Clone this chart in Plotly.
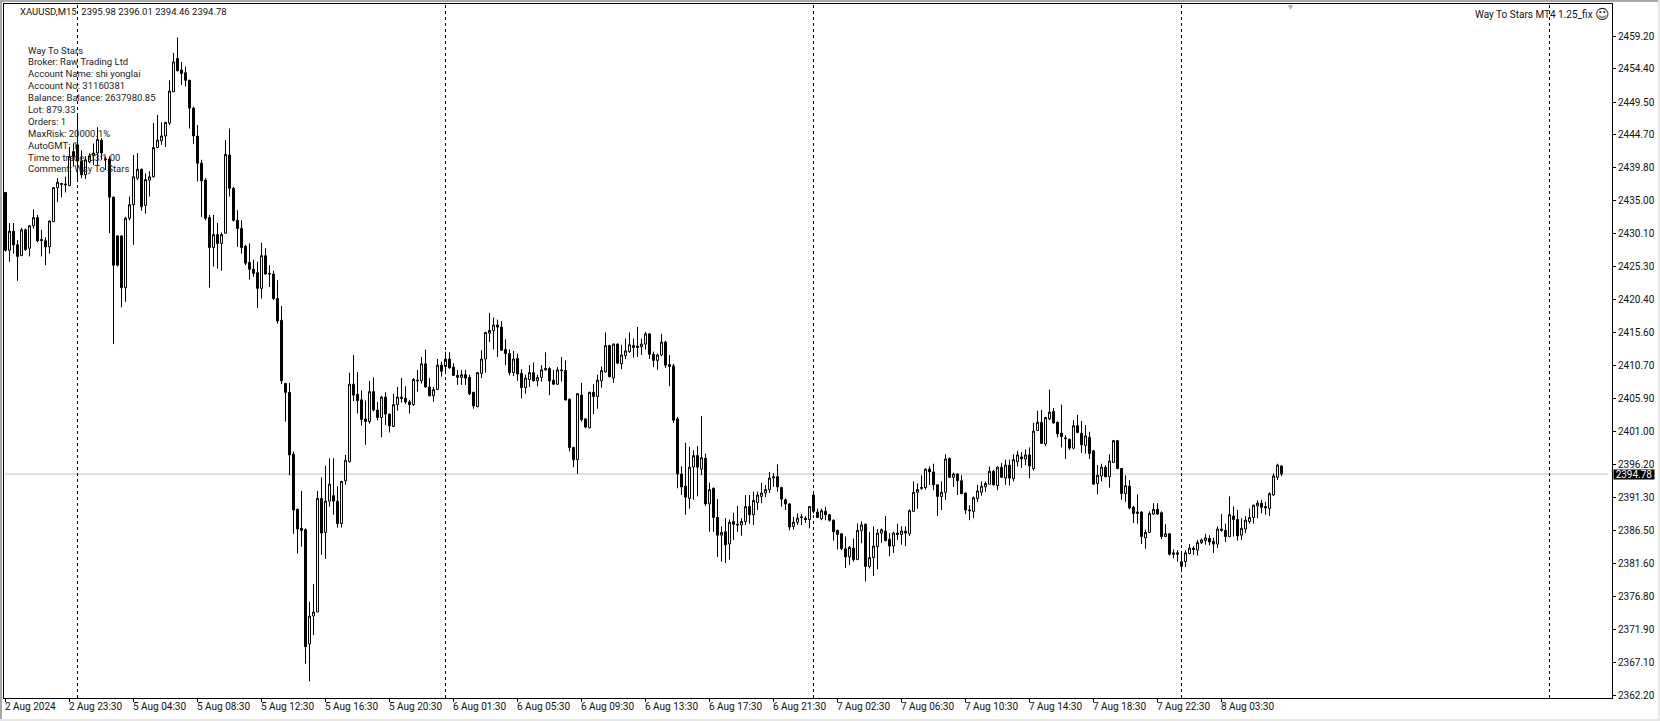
import plotly.graph_objects as go

opens = [
2436.2,2427.7,2430.5,2428.5,2426.9,2430.7,2428.0,2431.3,2432.5,2429.3,
2429.1,2428.2,2431.9,2436.9,2437.5,2437.3,2437.2,2442.2,2443.2,2440.8,
2438.8,2440.7,2441.6,2442.0,2443.9,2441.0,2441.1,2435.5,2429.8,2429.8,
2422.2,2432.4,2434.4,2438.3,2439.6,2434.3,2438.0,2438.5,2442.8,2443.8,
2444.5,2446.4,2451.0,2455.9,2454.2,2453.8,2452.7,2448.6,2444.5,2440.5,
2438.0,2432.5,2428.1,2430.0,2428.7,2430.2,2441.7,2436.8,2432.1,2430.9,
2428.3,2425.9,2424.9,2424.4,2422.1,2426.9,2424.3,2424.2,2420.6,2417.4,
2408.1,2406.8,2397.7,2389.6,2386.8,2386.6,2369.8,2373.9,2374.5,2391.2,
2386.2,2390.8,2391.6,2390.8,2387.5,2393.8,2396.6,2408.0,2406.5,2405.7,
2402.9,2402.5,2406.9,2404.2,2403.1,2406.1,2403.6,2401.8,2405.0,2406.1,
2405.9,2405.4,2405.0,2408.6,2408.5,2411.0,2407.6,2406.3,2407.2,2410.8,
2410.6,2411.7,2410.5,2409.3,2409.0,2409.4,2409.0,2406.8,2404.7,2409.6,
2411.7,2415.5,2415.9,2416.7,2416.4,2413.1,2412.5,2409.7,2411.8,2409.6,
2407.5,2408.7,2409.7,2408.5,2409.0,2410.1,2410.3,2408.6,2408.0,2410.1,
2410.0,2405.8,2398.7,2396.9,2406.4,2402.9,2401.6,2406.8,2406.2,2408.5,
2409.8,2413.7,2408.9,2413.9,2411.0,2412.2,2412.8,2413.7,2413.6,2413.5,
2413.9,2415.4,2412.4,2411.5,2412.3,2414.2,2410.9,2410.7,2402.9,2394.8,
2393.0,2391.2,2395.8,2397.5,2395.5,2397.1,2390.4,2392.7,2388.4,2385.8,
2386.3,2384.5,2387.8,2387.4,2387.3,2387.8,2390.0,2388.8,2390.6,2391.5,
2392.0,2392.5,2394.2,2394.4,2392.8,2391.0,2390.4,2387.1,2387.7,2388.5,
2388.3,2388.1,2391.7,2389.2,2388.2,2389.3,2388.8,2388.0,2386.5,2386.0,
2383.8,2382.6,2383.9,2382.2,2386.5,2387.4,2381.2,2382.5,2384.1,2386.1,
2386.4,2385.2,2384.2,2386.1,2385.9,2386.4,2386.0,2389.3,2392.1,2392.8,
2392.8,2395.5,2395.1,2393.2,2391.5,2392.1,2397.1,2394.3,2394.8,2393.8,
2392.0,2389.5,2389.3,2391.2,2392.1,2392.9,2393.3,2395.2,2393.1,2395.8,
2394.2,2396.1,2394.1,2396.6,2397.3,2397.0,2397.6,2395.6,2401.2,2402.4,
2399.2,2402.9,2404.0,2402.4,2400.8,2400.1,2399.9,2398.6,2401.9,2400.8,
2399.0,2400.2,2398.2,2393.4,2394.5,2395.8,2394.4,2396.5,2399.7,2395.6,
2391.9,2393.0,2389.9,2389.2,2389.2,2385.4,2386.2,2388.9,2389.6,2389.1,
2385.6,2386.0,2383.2,2383.2,2381.2,2381.9,2383.1,2383.9,2383.6,2384.7,
2385.0,2385.3,2384.9,2384.5,2386.7,2386.5,2385.6,2388.6,2388.1,2385.8,
2386.7,2387.8,2388.4,2390.1,2390.5,2390.0,2389.7,2391.7,2394.3,2395.98,
]
highs = [
2436.2,2431.7,2431.7,2429.2,2431.0,2430.9,2431.4,2433.7,2432.9,2430.7,
2429.6,2432.1,2437.0,2438.3,2437.6,2438.5,2442.9,2443.4,2447.8,2442.4,
2441.5,2442.0,2443.4,2445.8,2444.2,2441.5,2441.5,2435.6,2429.9,2429.9,
2432.6,2435.6,2441.7,2442.0,2439.7,2439.0,2439.3,2446.4,2447.6,2446.5,
2446.6,2452.7,2456.7,2458.96,2455.4,2454.7,2452.7,2448.8,2446.1,2441.0,
2438.3,2432.9,2432.9,2431.7,2430.3,2443.9,2445.6,2437.0,2433.6,2432.1,
2428.5,2428.7,2426.3,2426.0,2428.8,2428.0,2425.5,2424.7,2423.3,2419.5,
2408.2,2408.2,2398.1,2389.7,2392.3,2386.8,2376.0,2378.6,2392.3,2394.3,
2396.0,2397.1,2397.1,2393.0,2393.8,2397.6,2409.7,2412.3,2409.8,2407.1,
2405.6,2408.5,2409.0,2405.4,2406.3,2406.8,2403.7,2406.6,2407.6,2408.9,
2407.7,2405.7,2408.9,2410.1,2412.0,2413.1,2408.9,2407.6,2411.7,2411.3,
2412.8,2412.7,2411.1,2410.1,2410.1,2410.1,2409.4,2406.9,2409.8,2413.0,
2415.7,2418.5,2417.8,2417.5,2417.3,2414.6,2413.1,2412.9,2412.5,2410.2,
2409.4,2410.8,2411.2,2409.4,2410.8,2412.7,2410.5,2410.1,2410.5,2412.0,
2411.5,2405.9,2398.8,2406.7,2408.2,2403.0,2406.9,2408.0,2409.4,2410.6,
2415.6,2413.8,2414.0,2414.0,2413.8,2414.7,2415.6,2414.7,2416.4,2414.7,
2415.7,2415.5,2412.8,2412.5,2415.4,2414.4,2412.3,2411.0,2403.2,2395.9,
2399.4,2398.8,2398.3,2398.9,2403.3,2397.8,2393.5,2392.8,2391.1,2387.1,
2388.3,2388.1,2389.1,2390.1,2388.3,2391.7,2391.7,2392.2,2392.2,2393.5,
2393.2,2395.1,2394.9,2396.2,2392.9,2391.2,2390.5,2388.5,2389.0,2388.9,
2388.6,2390.1,2392.2,2389.7,2389.7,2390.0,2388.9,2388.1,2386.6,2386.1,
2385.6,2384.2,2385.3,2387.5,2387.8,2387.5,2386.3,2387.1,2386.7,2386.8,
2388.6,2386.1,2386.3,2387.5,2387.1,2387.1,2389.6,2393.7,2393.4,2394.6,
2395.6,2395.9,2396.3,2393.2,2393.7,2397.7,2397.2,2395.0,2394.9,2394.6,
2392.1,2390.2,2391.5,2393.2,2393.7,2393.7,2395.9,2395.4,2395.9,2396.4,
2396.9,2396.9,2397.7,2398.2,2398.0,2398.4,2398.7,2402.3,2404.1,2404.2,
2403.2,2407.2,2404.5,2402.5,2405.0,2400.5,2400.0,2402.7,2403.5,2402.6,
2402.0,2401.0,2398.3,2396.1,2396.3,2396.1,2397.7,2399.8,2399.8,2395.7,
2394.6,2393.9,2390.1,2391.8,2389.3,2386.6,2389.3,2390.5,2390.5,2389.3,
2387.4,2386.1,2383.7,2383.6,2383.4,2383.6,2384.5,2384.2,2385.1,2385.3,
2386.0,2385.8,2385.4,2387.1,2388.9,2387.5,2391.5,2390.0,2389.5,2388.3,
2388.6,2389.7,2390.3,2390.9,2391.0,2390.7,2392.1,2394.9,2396.3,2396.01,
]
lows = [
2427.5,2426.0,2427.2,2423.2,2426.9,2427.6,2426.8,2430.9,2428.9,2426.8,
2425.5,2427.2,2431.9,2434.8,2435.5,2436.2,2437.1,2440.0,2437.8,2438.3,
2438.2,2440.5,2440.2,2440.2,2441.0,2439.5,2430.2,2413.9,2425.3,2419.3,
2420.1,2432.1,2428.5,2438.0,2433.5,2433.1,2435.6,2438.4,2442.7,2443.2,
2442.9,2446.1,2451.0,2454.0,2452.0,2451.8,2445.6,2443.3,2437.8,2432.6,
2432.1,2422.2,2425.3,2425.0,2424.7,2430.2,2435.6,2431.9,2428.2,2427.2,
2425.5,2423.4,2423.8,2419.2,2420.6,2424.1,2422.3,2420.4,2416.9,2408.0,
2402.5,2394.6,2386.0,2383.1,2384.1,2366.9,2364.3,2371.1,2374.5,2382.9,
2382.3,2390.0,2388.8,2386.9,2386.9,2393.2,2396.5,2405.5,2403.7,2401.9,
2399.1,2402.2,2404.0,2402.7,2400.2,2402.0,2400.9,2401.7,2404.1,2405.3,
2405.1,2403.7,2404.8,2406.9,2408.1,2407.5,2406.2,2405.4,2407.2,2409.1,
2409.8,2410.3,2409.2,2407.9,2407.9,2407.9,2406.4,2404.4,2404.6,2408.9,
2409.7,2414.2,2413.1,2412.0,2412.9,2410.8,2409.3,2409.2,2408.5,2405.9,
2406.6,2407.6,2408.4,2407.7,2408.4,2410.0,2406.4,2407.9,2407.9,2408.4,
2405.6,2398.1,2395.8,2394.8,2402.5,2401.5,2401.5,2403.6,2404.4,2407.5,
2409.7,2409.0,2408.2,2411.0,2410.2,2411.7,2412.6,2411.9,2412.0,2412.3,
2413.1,2411.7,2410.5,2410.1,2412.1,2410.4,2407.7,2402.3,2392.7,2391.7,
2388.8,2389.7,2391.0,2391.5,2394.6,2390.1,2386.3,2386.3,2382.6,2381.9,
2381.7,2382.2,2385.1,2386.3,2385.7,2387.3,2387.5,2387.3,2389.5,2390.5,
2391.4,2392.0,2392.9,2392.2,2390.0,2389.5,2386.5,2386.6,2387.3,2387.3,
2387.6,2386.8,2389.0,2388.3,2388.0,2388.0,2387.8,2385.0,2383.7,2383.6,
2381.0,2381.4,2381.9,2382.2,2384.6,2379.0,2380.9,2379.8,2380.8,2384.7,
2384.9,2382.7,2383.2,2385.1,2384.4,2384.2,2385.7,2389.3,2389.7,2392.5,
2392.5,2393.2,2392.4,2388.6,2389.5,2391.0,2394.2,2392.9,2391.7,2391.9,
2388.9,2388.0,2388.3,2390.7,2391.6,2392.2,2393.3,2393.1,2392.4,2394.2,
2393.2,2393.1,2393.7,2395.9,2395.7,2396.1,2394.2,2395.3,2401.2,2399.2,
2398.9,2402.7,2402.2,2400.2,2398.7,2397.0,2398.3,2398.4,2400.8,2397.9,
2397.8,2397.0,2393.3,2391.8,2393.7,2394.3,2392.8,2396.4,2395.5,2391.0,
2390.7,2389.6,2387.6,2387.5,2384.5,2383.8,2386.1,2388.8,2388.8,2385.2,
2385.5,2382.8,2382.4,2381.9,2380.6,2381.1,2383.0,2382.9,2382.8,2384.5,
2384.4,2384.3,2383.2,2383.9,2386.3,2384.8,2385.5,2385.6,2385.0,2385.1,
2386.1,2387.5,2387.5,2388.3,2389.0,2388.8,2388.6,2391.6,2393.9,2394.46,
]
closes = [
2427.7,2430.5,2428.5,2426.8,2430.7,2427.8,2431.3,2432.5,2429.1,2429.1,
2428.2,2432.0,2436.9,2437.7,2437.4,2437.4,2441.5,2441.5,2440.8,2438.8,
2441.0,2441.6,2442.0,2444.0,2442.0,2441.1,2435.5,2425.5,2425.5,2422.2,
2432.4,2434.4,2438.5,2439.6,2434.1,2438.1,2438.5,2442.8,2443.9,2444.5,
2446.5,2451.1,2455.4,2454.1,2453.7,2452.7,2448.6,2444.5,2440.5,2437.9,
2432.4,2428.1,2430.0,2428.7,2430.0,2441.8,2436.8,2432.1,2430.9,2428.1,
2425.8,2424.9,2424.3,2422.1,2426.9,2424.2,2424.2,2420.6,2417.3,2408.5,
2406.8,2397.6,2389.5,2386.7,2386.5,2369.4,2373.9,2374.5,2391.2,2386.1,
2390.8,2393.3,2390.8,2387.5,2393.7,2396.8,2408.0,2406.4,2405.6,2402.8,
2402.5,2406.9,2404.2,2403.1,2406.1,2403.6,2401.9,2405.0,2406.1,2405.9,
2405.4,2405.0,2408.7,2408.5,2411.0,2407.6,2406.3,2407.2,2410.8,2409.9,
2411.7,2410.4,2409.3,2409.0,2409.4,2408.9,2406.6,2404.8,2409.7,2411.7,
2415.6,2415.9,2416.7,2416.4,2413.0,2412.5,2409.7,2411.7,2409.5,2407.5,
2408.9,2409.7,2408.5,2409.0,2410.1,2410.3,2408.5,2408.0,2410.1,2410.0,
2405.7,2398.7,2396.9,2406.6,2402.8,2401.7,2406.8,2406.2,2408.6,2410.0,
2413.7,2409.1,2413.9,2411.1,2412.3,2412.9,2413.8,2413.4,2413.4,2413.9,
2415.4,2412.4,2411.5,2412.3,2414.2,2410.8,2410.6,2402.7,2394.8,2392.9,
2391.4,2395.8,2397.5,2395.8,2397.2,2390.4,2392.5,2388.4,2385.8,2386.2,
2384.4,2387.7,2387.4,2387.3,2387.8,2390.0,2388.8,2390.9,2391.7,2392.0,
2392.5,2394.2,2394.4,2392.9,2391.1,2390.4,2387.0,2387.7,2388.3,2388.4,
2388.1,2390.0,2389.3,2388.4,2389.4,2388.8,2388.0,2386.3,2385.9,2383.8,
2382.6,2384.0,2382.2,2386.5,2387.3,2381.2,2382.5,2384.2,2386.1,2386.6,
2385.0,2384.2,2386.1,2385.9,2386.4,2386.1,2389.4,2392.1,2392.5,2392.7,
2395.5,2395.1,2393.2,2391.5,2392.1,2397.0,2394.3,2394.8,2393.8,2391.9,
2389.5,2389.4,2391.3,2392.3,2393.0,2393.4,2395.2,2393.2,2395.8,2394.3,
2396.1,2394.2,2396.9,2397.6,2397.0,2397.6,2396.0,2401.1,2402.4,2399.3,
2403.1,2403.9,2402.3,2400.7,2400.3,2400.0,2398.6,2401.9,2400.9,2399.1,
2400.4,2397.8,2393.3,2394.6,2395.8,2394.4,2396.7,2399.7,2395.6,2391.9,
2393.1,2389.8,2389.0,2389.0,2385.6,2386.2,2389.0,2389.6,2388.9,2385.6,
2386.0,2383.0,2383.0,2383.0,2381.9,2383.2,2383.9,2383.7,2384.7,2385.1,
2385.4,2384.8,2384.5,2386.7,2386.5,2385.6,2388.8,2388.1,2385.7,2386.8,
2388.0,2388.4,2390.2,2390.5,2389.9,2389.8,2391.9,2394.5,2396.1,2394.78,
]

x_tick_positions = list(range(0, 320, 16))
x_tick_labels = [
    "2 Aug 2024", "2 Aug 23:30", "5 Aug 04:30", "5 Aug 08:30", "5 Aug 12:30",
    "5 Aug 16:30", "5 Aug 20:30", "6 Aug 01:30", "6 Aug 05:30", "6 Aug 09:30",
    "6 Aug 13:30", "6 Aug 17:30", "6 Aug 21:30", "7 Aug 02:30", "7 Aug 06:30",
    "7 Aug 10:30", "7 Aug 14:30", "7 Aug 18:30", "7 Aug 22:30", "8 Aug 03:30",
]
y_ticks = [2459.20, 2454.40, 2449.50, 2444.70, 2439.80, 2435.00, 2430.10, 2425.30,
           2420.40, 2415.60, 2410.70, 2405.90, 2401.00, 2396.20, 2391.30, 2386.50,
           2381.60, 2376.80, 2371.90, 2367.10, 2362.20]
day_separators = [18, 110, 202, 294, 386]
last_price = 2394.78
header = "XAUUSD,M15  2395.98 2396.01 2394.46 2394.78"
info_lines = [
    "Way To Stars", "Broker: Raw Trading Ltd", "Account Name: shi yonglai",
    "Account No: 31160381", "Balance: Balance: 2637980.85", "Lot: 879.33",
    "Orders: 1", "MaxRisk: 20000.1%", "AutoGMT: 1", "Time to trade: 03:1.00",
    "Comment: Way To Stars",
]

FONT = "Roboto"
FS = 10
FS_INFO = 9.5
W, H = 1660, 721
L, R, T, B = 4, 1612, 4, 698
px_per_bar = 4.0
px_per_unit = 6.8
xr = [(L - 5.5) / px_per_bar, (L - 5.5) / px_per_bar + (R - L) / px_per_bar]
yr = [2464.5 - B / px_per_unit, 2464.5 - T / px_per_unit]

def px(x):
    return (x - L) / (R - L)

def py(y):
    return (B - y) / (B - T)

fig = go.Figure(go.Candlestick(
    x=list(range(len(opens))), open=opens, high=highs, low=lows, close=closes,
    increasing=dict(line=dict(color="black", width=1), fillcolor="white"),
    decreasing=dict(line=dict(color="black", width=1), fillcolor="black"),
    whiskerwidth=0, hoverinfo="skip", showlegend=False,
))

shapes = [dict(type="line", xref="paper", yref="y", x0=px(5), x1=px(1608), y0=last_price, y1=last_price,
               line=dict(color="#c0c0c0", width=1), layer="below")]
for d in day_separators:
    shapes.append(dict(type="line", xref="x", yref="paper", x0=d, x1=d, y0=0, y1=1,
                       line=dict(color="black", width=1, dash="3px,3px"), layer="above"))
for (a, b, c, d, col) in [(0, 1660, 0, 2, "#a8a8a8"), (0, 2, 0, 721, "#a8a8a8"),
                          (0, 1660, 719, 721, "#e6e6e6"), (1658, 1660, 0, 721, "#e6e6e6")]:
    shapes.append(dict(type="rect", xref="paper", yref="paper", x0=px(a), x1=px(b), y0=py(c), y1=py(d),
                       line=dict(width=0), fillcolor=col, layer="above"))

annots = [dict(xref="paper", yref="paper", x=px(18.5), y=py(12), text=header, showarrow=False,
               xanchor="left", yanchor="middle", font=dict(family=FONT, size=FS_INFO, color="#111"), borderpad=0),
          dict(xref="paper", yref="paper", x=px(1594), y=py(14), text="Way To Stars MT4 1.25_fix", showarrow=False,
               xanchor="right", yanchor="middle", font=dict(family=FONT, size=FS, color="#111"), borderpad=0),
          dict(xref="paper", yref="paper", x=px(1602), y=py(14), text="\u263a", showarrow=False,
               xanchor="center", yanchor="middle", font=dict(family="DejaVu Sans", size=14, color="#222"), borderpad=0),
          dict(xref="paper", yref="paper", x=px(1290), y=py(7), text="\u25be", showarrow=False,
               xanchor="center", yanchor="middle", font=dict(family="DejaVu Sans", size=10, color="#b0b0b0"), borderpad=0),
          dict(xref="paper", yref="y", x=px(1634), y=last_price, text=f"{last_price:.2f}", showarrow=False,
               xanchor="center", yanchor="middle", bgcolor="black", width=40, height=9,
               font=dict(family=FONT, size=FS, color="white"), borderpad=0)]
for i, line in enumerate(info_lines):
    annots.append(dict(xref="paper", yref="paper", x=px(27), y=py(50 + 11.9 * i), text=line, showarrow=False,
                       xanchor="left", yanchor="middle", font=dict(family=FONT, size=FS_INFO, color="#222"), borderpad=0))
for pos, lab in zip(x_tick_positions, x_tick_labels):
    annots.append(dict(xref="x", yref="paper", x=pos, y=py(707), text=lab, showarrow=False, xshift=-2,
                       xanchor="left", yanchor="middle", font=dict(family=FONT, size=FS, color="#111"), borderpad=0))

fig.update_layout(
    width=W, height=H, autosize=False,
    margin=dict(l=L, r=W - R, t=T, b=H - B, pad=0),
    paper_bgcolor="white", plot_bgcolor="white",
    font=dict(family=FONT, size=FS, color="#111"),
    shapes=shapes, annotations=annots, showlegend=False, hovermode=False,
    xaxis=dict(range=xr, rangeslider=dict(visible=False), showgrid=False, zeroline=False,
               tickmode="array", tickvals=x_tick_positions, ticktext=[""] * len(x_tick_positions),
               ticks="outside", ticklen=3, tickcolor="black", tickwidth=1,
               showline=True, linecolor="black", linewidth=1, mirror=True),
    yaxis=dict(range=yr, side="right", showgrid=False, zeroline=False,
               tickmode="array", tickvals=y_ticks, ticktext=[f"{v:.2f}" for v in y_ticks],
               ticks="outside", ticklen=3, tickcolor="black", tickwidth=1,
               tickfont=dict(family=FONT, size=FS, color="#111"),
               showline=True, linecolor="black", linewidth=1, mirror=True),
)

fig.write_html("out.html", config={"displayModeBar": False},
               post_script="document.body.style.margin='0';document.body.style.overflow='hidden';")
